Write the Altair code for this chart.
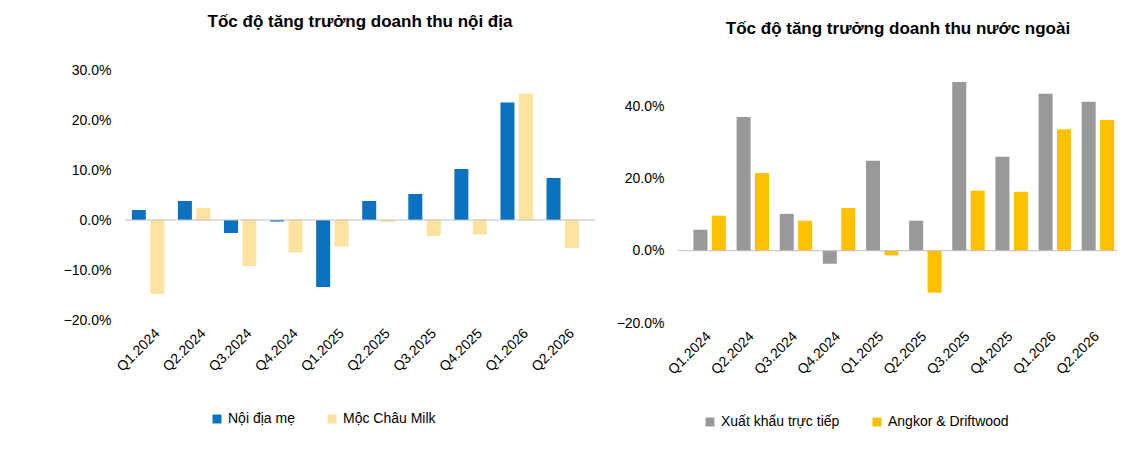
import altair as alt
import pandas as pd

quarters = ["Q1.2024", "Q2.2024", "Q3.2024", "Q4.2024", "Q1.2025",
            "Q2.2025", "Q3.2025", "Q4.2025", "Q1.2026", "Q2.2026"]

noi_dia_me = [2.0, 3.8, -2.6, -0.3, -13.4, 3.8, 5.2, 10.2, 23.5, 8.4]
moc_chau = [-14.8, 2.4, -9.2, -6.5, -5.3, -0.4, -3.2, -2.9, 25.3, -5.6]

xuat_khau = [5.8, 37.0, 10.2, -3.6, 24.9, 8.3, 46.7, 26.0, 43.4, 41.2]
angkor = [9.7, 21.5, 8.3, 11.8, -1.3, -11.6, 16.6, 16.3, 33.6, 36.2]

FONT = "Liberation Sans"


def panel(title, names, series, colors, ymin, ymax, step, width, height, legend_x):
    rows = []
    for name, vals in zip(names, series):
        for q, v in zip(quarters, vals):
            rows.append({"q": q, "s": name, "v": v / 100})
    df = pd.DataFrame(rows)
    ticks = [x / 100 for x in range(ymin, ymax + 1, step)]
    bars = alt.Chart(df).mark_bar(size=14).encode(
        x=alt.X("q:N", sort=quarters, title=None,
                axis=alt.Axis(labelAngle=-45, domain=False, ticks=False,
                              labelFontSize=14, labelPadding=6)),
        xOffset=alt.XOffset("s:N", sort=names),
        y=alt.Y("v:Q", title=None,
                scale=alt.Scale(domain=[ymin / 100, ymax / 100], nice=False),
                axis=alt.Axis(format=".1%", values=ticks, grid=False, domain=False,
                              ticks=False, labelFontSize=14, labelPadding=14,
                              labelOverlap=False)),
        color=alt.Color("s:N", scale=alt.Scale(domain=names, range=colors),
                        legend=alt.Legend(orient="none", legendX=legend_x,
                                          legendY=height + 92, direction="horizontal",
                                          title=None, labelFontSize=14,
                                          symbolType="square", symbolSize=80,
                                          columnPadding=30)),
    )
    zero = alt.Chart(pd.DataFrame({"z": [0]})).mark_rule(color="#bfbfbf").encode(y="z:Q")
    return alt.layer(bars, zero).properties(
        width=width, height=height,
        title=alt.TitleParams(title, fontSize=17, fontWeight="bold", offset=32),
    )


left = panel("Tốc độ tăng trưởng doanh thu nội địa",
             ["Nội địa mẹ", "Mộc Châu Milk"], [noi_dia_me, moc_chau],
             ["#0a72c0", "#fde39d"], -20, 30, 10, 470, 250, 85)
right = panel("Tốc độ tăng trưởng doanh thu nước ngoài",
              ["Xuất khẩu trực tiếp", "Angkor & Driftwood"], [xuat_khau, angkor],
              ["#999999", "#ffc000"], -20, 50, 10, 440, 253, 25)

chart = alt.hconcat(left, right, spacing=20).resolve_scale(color="independent").properties(
    padding={"left": 55, "top": 5, "right": 5, "bottom": 5}
).configure(font=FONT).configure_view(stroke=None)

chart.save("out.html", embed_options={"renderer": "svg", "actions": False})
